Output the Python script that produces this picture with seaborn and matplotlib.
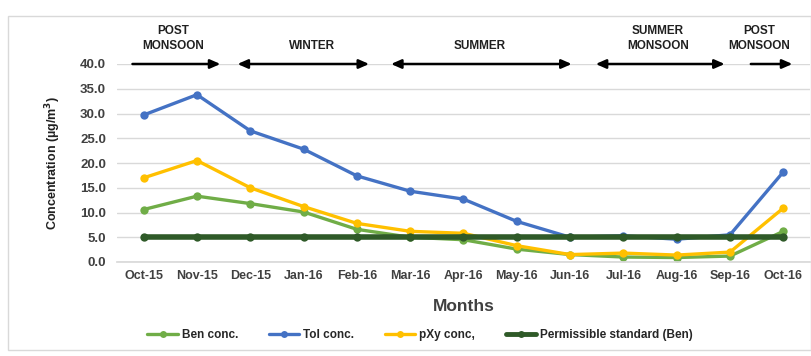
import matplotlib
matplotlib.use("Agg")
import matplotlib.pyplot as plt
import seaborn as sns
import pandas as pd

months = ["Oct-15", "Nov-15", "Dec-15", "Jan-16", "Feb-16", "Mar-16", "Apr-16",
          "May-16", "Jun-16", "Jul-16", "Aug-16", "Sep-16", "Oct-16"]
ben = [10.6, 13.3, 11.8, 10.1, 6.6, 5.0, 4.5, 2.6, 1.5, 1.0, 0.9, 1.2, 6.2]
tol = [29.7, 33.8, 26.5, 22.8, 17.4, 14.3, 12.7, 8.2, 5.0, 5.3, 4.6, 5.5, 18.2]
pxy = [17.0, 20.5, 15.0, 11.2, 7.8, 6.2, 5.8, 3.3, 1.5, 1.8, 1.4, 2.0, 10.9]
standard = [5.0] * 13
series_names = ["Ben conc.", "Tol conc.", "pXy conc,", "Permissible standard (Ben)"]
seasons = ["POST\nMONSOON", "WINTER", "SUMMER", "SUMMER\nMONSOON", "POST\nMONSOON"]

sns.set_theme(style="white")
plt.rcParams["font.family"] = ["Liberation Sans", "DejaVu Sans"]
plt.rcParams["font.weight"] = "bold"

rows = []
for name, vals in zip(series_names, [ben, tol, pxy, standard]):
    for i, v in enumerate(vals):
        rows.append({"idx": i, "value": v, "series": name})
df = pd.DataFrame(rows)

palette = {"Ben conc.": "#70AD47", "Tol conc.": "#4472C4",
           "pXy conc,": "#FFC000", "Permissible standard (Ben)": "#2F5A28"}

fig = plt.figure(figsize=(8.12, 3.56), dpi=100)
# outer chart frame
fig.patches.append(plt.Rectangle((8 / 812, 6 / 356), 803 / 812, 334 / 356,
                                 transform=fig.transFigure, fill=False,
                                 edgecolor="#d9d9d9", lw=1.0))
ax = fig.add_axes([117 / 812, 1 - 262 / 356, 693 / 812, 198 / 356])

sns.lineplot(data=df, x="idx", y="value", hue="series", palette=palette,
             marker="o", markersize=6, markeredgewidth=0, linewidth=2.4,
             ax=ax, legend=False)
# the permissible standard line is heavier
ax.lines[3].set_linewidth(4.0)

ax.set_xlim(-0.5, 12.5)
ax.set_ylim(0, 40)
ax.set_yticks([0, 5, 10, 15, 20, 25, 30, 35, 40])
ax.set_yticklabels([f"{v:.1f}" for v in range(0, 45, 5)], fontsize=9.5, fontweight="bold", color="#404040")
ax.set_xticks(range(13))
ax.set_xticklabels(months, fontsize=9, fontweight="bold", color="#404040")
ax.set_xticks([i + 0.5 for i in range(-1, 13)], minor=True)
ax.tick_params(axis="x", which="minor", length=4, color="#d0d0d0", width=0.8)
ax.tick_params(axis="x", which="major", length=0, pad=6)
ax.tick_params(axis="y", length=0, pad=8)
ax.grid(axis="y", color="#d9d9d9", lw=1.0)
ax.set_axisbelow(True)
for s in ["top", "right", "left"]:
    ax.spines[s].set_visible(False)
ax.spines["bottom"].set_color("#d9d9d9")

ax.set_xlabel("Months", fontsize=12.5, fontweight="bold", color="#404040", labelpad=12)
ax.set_ylabel("Concentration (µg/m$^3$)", fontsize=9, fontweight="bold", color="#202020", labelpad=12)

# season spans along the top gridline
spans = [(-0.21, 1.44, "-|>"), (1.76, 4.23, "<|-|>"), (4.64, 8.03, "<|-|>"),
         (8.48, 10.9, "<|-|>"), (11.39, 12.17, "-|>")]
label_x = [0.55, 3.15, 6.3, 9.65, 11.55]
for (x0, x1, style), lab, lx in zip(spans, seasons, label_x):
    ax.annotate("", xy=(x1, 40), xytext=(x0, 40),
                arrowprops=dict(arrowstyle=style + ",head_length=0.5,head_width=0.22",
                                color="black", lw=1.8, shrinkA=0, shrinkB=0),
                annotation_clip=False)
    y = 45.2 if "\n" in lab else 43.6
    ax.text(lx, y, lab, ha="center", va="center", fontsize=8.5, fontweight="bold",
            color="#202020", linespacing=1.35, clip_on=False)

# legend below the axis title
handles = [plt.Line2D([], [], color=palette[n], lw=2.4 if i < 3 else 3.5, marker="o",
                      markersize=5, markeredgewidth=0) for i, n in enumerate(series_names)]
fig.legend(handles, series_names, loc="center", bbox_to_anchor=(420 / 812, 1 - 335 / 356),
           ncol=4, frameon=False, fontsize=8.5, handlelength=2.6, columnspacing=2.6,
           handletextpad=0.3)

fig.savefig("out.png", dpi=100)
